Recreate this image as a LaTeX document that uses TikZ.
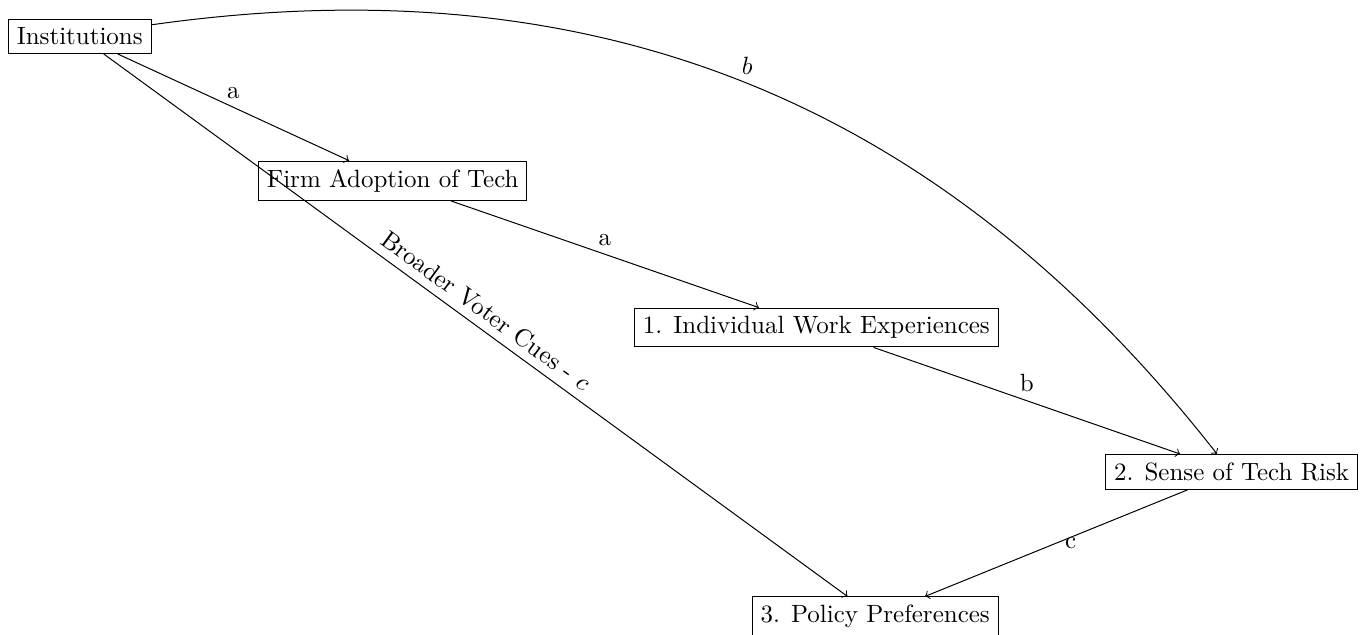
\documentclass[tikz,border=0pt]{standalone}
\usepackage{amsmath}
\usepackage{tikz}
\usetikzlibrary{calc,positioning}

\begin{document}
\begin{tikzpicture}[node distance=1.5cm and 1.5cm,
    factor/.style={rectangle, draw=black},
    arrow/.style={->}]

    \node[factor] (inst) {Institutions};
    \node[factor, below right=of inst] (firm) {Firm Adoption of Tech};
    \node[factor, below right=of firm] (work) {1. Individual Work Experiences};
    \node[factor, below right=of work] (risk) {2. Sense of Tech Risk};
    \node[factor, below left=of risk] (policy) {3. Policy Preferences};

    \draw[arrow] (inst) -- node[above] {a} (firm);
    \draw[arrow] (firm) -- node[above] {a} (work);
    \draw[arrow] (work) -- node[above] {b} (risk);
    \draw[arrow] (risk) -- node[right] {c} (policy);
    \draw[arrow] (inst) to[bend left=30] node[above] {$b$} (risk);
    \draw[arrow] (inst) -- node[above, sloped] {Broader Voter Cues - $c$} (policy);

    \pgfresetboundingbox
    \useasboundingbox ($(inst.north west)+(-3.2pt,7.6pt)$) rectangle ($(risk.east |- policy.south)+(2.8pt,0.8pt)$);
\end{tikzpicture}
\end{document}
